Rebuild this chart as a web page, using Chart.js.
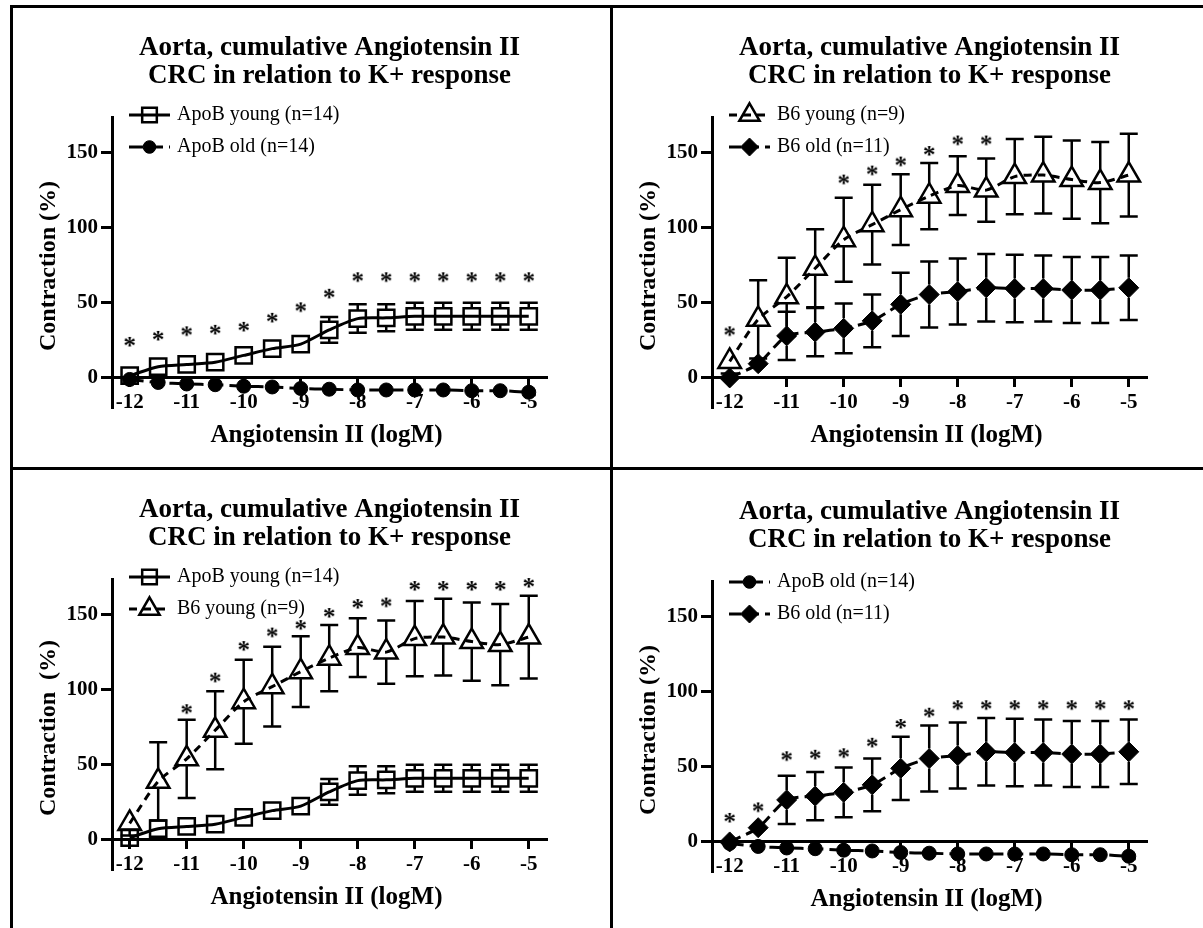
<!DOCTYPE html>
<html>
<head>
<meta charset="utf-8">
<script src="https://cdn.jsdelivr.net/npm/chart.js@4.4.1/dist/chart.umd.min.js"></script>
<style>
  html, body { margin: 0; padding: 0; background: #fff; }
  body { width: 1203px; height: 928px; position: relative; overflow: hidden; }
  .panel { position: absolute; width: 600px; height: 462px; box-sizing: border-box;
           border-left: 3px solid #000; border-top: 3px solid #000; }
  .panel canvas { position: absolute; left: 0; top: 0; }
</style>
</head>
<body>
<div class="panel" style="left:10px;top:5px"><canvas id="p1" width="597" height="459"></canvas></div>
<div class="panel" style="left:610px;top:5px"><canvas id="p2" width="597" height="459"></canvas></div>
<div class="panel" style="left:10px;top:467px"><canvas id="p3" width="597" height="459"></canvas></div>
<div class="panel" style="left:610px;top:467px"><canvas id="p4" width="597" height="459" style="top:2px"></canvas></div>

<script>
// ---------- data ----------
const logM = [-12, -11.5, -11, -10.5, -10, -9.5, -9, -8.5, -8, -7.5, -7, -6.5, -6, -5.5, -5];
const xTickValues = [-12, -11, -10, -9, -8, -7, -6, -5];
const yTickValues = [0, 50, 100, 150];

const apoYoungMean = [1.5, 7.5, 9, 10.5, 15, 19.5, 22.5, 32, 39.5, 40, 41, 41, 41, 41, 41];
const apoYoungSem  = [1.5, 2, 2, 2, 2.5, 3, 3, 8.5, 9.5, 9, 9, 9, 9, 9, 9];
const apoOldMean   = [-1, -3, -4, -4.5, -5.5, -6, -7, -7.5, -8, -8, -8, -8, -8.5, -8.5, -9.5];
const apoOldSem    = [1, 1, 1, 1, 1.5, 1.5, 1.5, 1.5, 1.5, 1.5, 2, 2, 2, 2, 3];
const b6YoungMean  = [11, 39, 54, 73, 92, 102, 112, 121, 128, 125, 134, 135, 132, 130, 135];
const b6YoungSem   = [8, 26, 26, 26, 28, 26.5, 23.5, 22, 19.5, 21, 25, 25.5, 26, 27, 27.5];
const b6OldMean    = [0, 9.5, 28, 30.5, 33, 38, 49, 55.5, 57.5, 60, 59.5, 59.5, 58.5, 58.5, 60];
const b6OldSem     = [1.5, 3.5, 16, 16, 16.5, 17.5, 21, 22, 22, 22.5, 22.5, 22, 22, 22, 21.5];

// asterisk heights (significance marks)
const starsP1 = [24, 28, 31, 32, 34, 40, 47, 56, 67, 67, 67, 67, 67, 67, 67];
const starsP2 = [31, null, null, null, 132, 138, 144, 151, 158, 158, null, null, null, null, null];
const starsP3 = [null, null, 87, 108, 129, 138, 143, 151, 157, 158, 169, 169, 169, 169, 171];
const starsP4 = [16, 23, 57, 58, 59, 66, 78.5, 86, 91, 91, 91, 91, 91, 91, 91];

const titleLines = ['Aorta, cumulative Angiotensin II', 'CRC in relation to K+ response'];
const xTitle = 'Angiotensin II (logM)';

// ---------- styles ----------
const SERIF = '"Liberation Serif", "Times New Roman", serif';
Chart.defaults.font.family = SERIF;
Chart.defaults.color = '#000';

const styleApoYoung = { pointStyle: 'rect', pointRadius: 11.5, pointBorderWidth: 2.5,
  pointBackgroundColor: 'rgba(0,0,0,0)', borderDash: [], markTop: 8, markBottom: 8 };
const styleApoOld = { pointStyle: 'circle', pointRadius: 7, pointBorderWidth: 1,
  pointBackgroundColor: '#000', borderDash: [14, 6], markTop: 7, markBottom: 7 };
const styleB6Young = { pointStyle: 'triangle', pointRadius: 13, pointBorderWidth: 2.5,
  pointBackgroundColor: 'rgba(0,0,0,0)', borderDash: [8, 6], markTop: 13, markBottom: 7 };
const styleB6Old = { pointStyle: 'rectRot', pointRadius: 10, pointBorderWidth: 1,
  pointBackgroundColor: '#000', borderDash: [12, 6], markTop: 10, markBottom: 10 };

function series(label, mean, sem, style) {
  return Object.assign({
    label: label,
    data: logM.map((x, i) => ({ x: x, y: mean[i] })),
    sem: sem,
    inLegend: true,
    borderColor: '#000',
    borderWidth: 3,
    pointBorderColor: '#000',
    tension: 0.25,
    clip: false
  }, style);
}

function makeStar() {
  const c = document.createElement('canvas');
  c.width = 24; c.height = 24;
  const g = c.getContext('2d');
  g.fillStyle = '#000';
  g.font = 'bold 25px ' + SERIF;
  g.textAlign = 'center';
  g.textBaseline = 'alphabetic';
  g.fillText('*', 12, 12 + 0.47 * 25);
  return c;
}
const starImg = makeStar();

// ---------- plugins ----------
const errorBarPlugin = {
  id: 'errorBars',
  beforeDatasetsDraw(chart) {
    const ctx = chart.ctx;
    const xs = chart.scales.x, ys = chart.scales.y;
    const cap = 9;
    chart.data.datasets.forEach(ds => {
      if (!ds.sem) return;
      ctx.save();
      ctx.strokeStyle = '#000';
      ctx.lineWidth = 2.5;
      ds.data.forEach((pt, j) => {
        const e = ds.sem[j];
        const x = xs.getPixelForValue(pt.x);
        const yc = ys.getPixelForValue(pt.y);
        const yt = ys.getPixelForValue(pt.y + e);
        const yb = ys.getPixelForValue(pt.y - e);
        ctx.beginPath();
        if (yc - yt > ds.markTop) {
          ctx.moveTo(x, yc - ds.markTop); ctx.lineTo(x, yt);
          ctx.moveTo(x - cap, yt); ctx.lineTo(x + cap, yt);
        }
        if (yb - yc > ds.markBottom) {
          ctx.moveTo(x, yc + ds.markBottom); ctx.lineTo(x, yb);
          ctx.moveTo(x - cap, yb); ctx.lineTo(x + cap, yb);
        }
        ctx.stroke();
      });
      ctx.restore();
    });
  }
};

const axisTitlePlugin = {
  id: 'axisTitles',
  afterDraw(chart, args, opts) {
    const ctx = chart.ctx, a = chart.chartArea;
    ctx.save();
    ctx.fillStyle = '#000';
    ctx.textAlign = 'center';
    ctx.textBaseline = 'middle';
    ctx.font = 'bold 25px ' + SERIF;
    ctx.fillText(opts.x, (a.left + a.right) / 2 - 3, opts.xTitleY);
    ctx.translate(opts.yTitleX, opts.yTitleY);
    ctx.rotate(-Math.PI / 2);
    ctx.font = 'bold 24px ' + SERIF;
    ctx.fillText(opts.y, 0, 0);
    ctx.restore();
  }
};

const legendPlugin = {
  id: 'insideLegend',
  afterDraw(chart, args, opts) {
    const ctx = chart.ctx;
    const items = chart.data.datasets.filter(d => d.inLegend);
    items.forEach((ds, k) => {
      const y = opts.top + k * opts.gap;
      ctx.save();
      ctx.strokeStyle = '#000';
      ctx.lineWidth = ds.borderWidth;
      ctx.setLineDash(ds.borderDash);
      ctx.beginPath();
      ctx.moveTo(opts.left, y);
      ctx.lineTo(opts.left + opts.lineLen, y);
      ctx.stroke();
      ctx.setLineDash([]);
      ctx.fillStyle = ds.pointBackgroundColor;
      ctx.lineWidth = ds.pointBorderWidth;
      Chart.helpers.drawPoint(ctx, {
        pointStyle: ds.pointStyle, radius: ds.pointRadius * 0.9,
        borderWidth: ds.pointBorderWidth, rotation: 0
      }, opts.left + opts.lineLen / 2, y);
      ctx.fillStyle = '#000';
      ctx.font = '20px ' + SERIF;
      ctx.textAlign = 'left';
      ctx.textBaseline = 'middle';
      ctx.fillText(ds.label, opts.textX, y);
      ctx.restore();
    });
  }
};

// ---------- panels ----------
function drawPanel(id, sets, stars, yTitle, legendTop) {
  const datasets = sets.slice();
  datasets.push({
    label: 'sig',
    data: logM.map((x, i) => ({ x: x, y: stars[i] })),
    showLine: false,
    pointStyle: starImg,
    pointRadius: 6,
    clip: false
  });

  const axisTicks = { font: { size: 21, weight: 'bold' }, color: '#000',
    autoSkip: false, maxRotation: 0, callback: v => String(v) };

  new Chart(document.getElementById(id), {
    type: 'line',
    data: { datasets: datasets },
    options: {
      responsive: false,
      animation: false,
      events: [],
      layout: { padding: { left: 0, top: 0, right: 63, bottom: 59 } },
      plugins: {
        legend: { display: false },
        tooltip: { enabled: false },
        title: {
          display: true, text: titleLines, fullSize: false, color: '#000',
          font: { size: 27, weight: 'bold', lineHeight: 1.037 },
          padding: { top: 26, bottom: 28 }
        },
        axisTitles: { x: xTitle, y: yTitle, xTitleY: 428, yTitleX: 36, yTitleY: 258 },
        insideLegend: { top: legendTop, gap: 32, left: 116, lineLen: 41, textX: 164 }
      },
      scales: {
        x: {
          type: 'linear', min: -12.31, max: -4.68, position: { y: 0 },
          afterFit(s) { s.height = 0; },
          afterBuildTicks(s) { s.ticks = xTickValues.map(v => ({ value: v })); },
          grid: { drawOnChartArea: false, drawTicks: true, tickLength: 8, tickWidth: 3, tickColor: '#000' },
          border: { display: true, color: '#000', width: 3 },
          ticks: Object.assign({ padding: 4 }, axisTicks)
        },
        y: {
          type: 'linear', min: -20, max: 173, position: 'left',
          afterFit(s) { s.width = 99; },
          afterBuildTicks(s) { s.ticks = yTickValues.map(v => ({ value: v })); },
          grid: { drawOnChartArea: false, drawTicks: true, tickLength: 11, tickWidth: 3, tickColor: '#000' },
          border: { display: true, color: '#000', width: 3 },
          ticks: Object.assign({ padding: 3 }, axisTicks)
        }
      }
    },
    plugins: [errorBarPlugin, axisTitlePlugin, legendPlugin]
  });
}

drawPanel('p1', [
  series('ApoB young (n=14)', apoYoungMean, apoYoungSem, styleApoYoung),
  series('ApoB old (n=14)', apoOldMean, apoOldSem, styleApoOld)
], starsP1, 'Contraction (%)', 107);

drawPanel('p2', [
  series('B6 young (n=9)', b6YoungMean, b6YoungSem, styleB6Young),
  series('B6 old (n=11)', b6OldMean, b6OldSem, styleB6Old)
], starsP2, 'Contraction (%)', 107);

drawPanel('p3', [
  series('ApoB young (n=14)', apoYoungMean, apoYoungSem, styleApoYoung),
  series('B6 young (n=9)', b6YoungMean, b6YoungSem, styleB6Young)
], starsP3, 'Contraction  (%)', 107);

drawPanel('p4', [
  series('ApoB old (n=14)', apoOldMean, apoOldSem, styleApoOld),
  series('B6 old (n=11)', b6OldMean, b6OldSem, styleB6Old)
], starsP4, 'Contraction (%)', 110);
</script>
</body>
</html>
